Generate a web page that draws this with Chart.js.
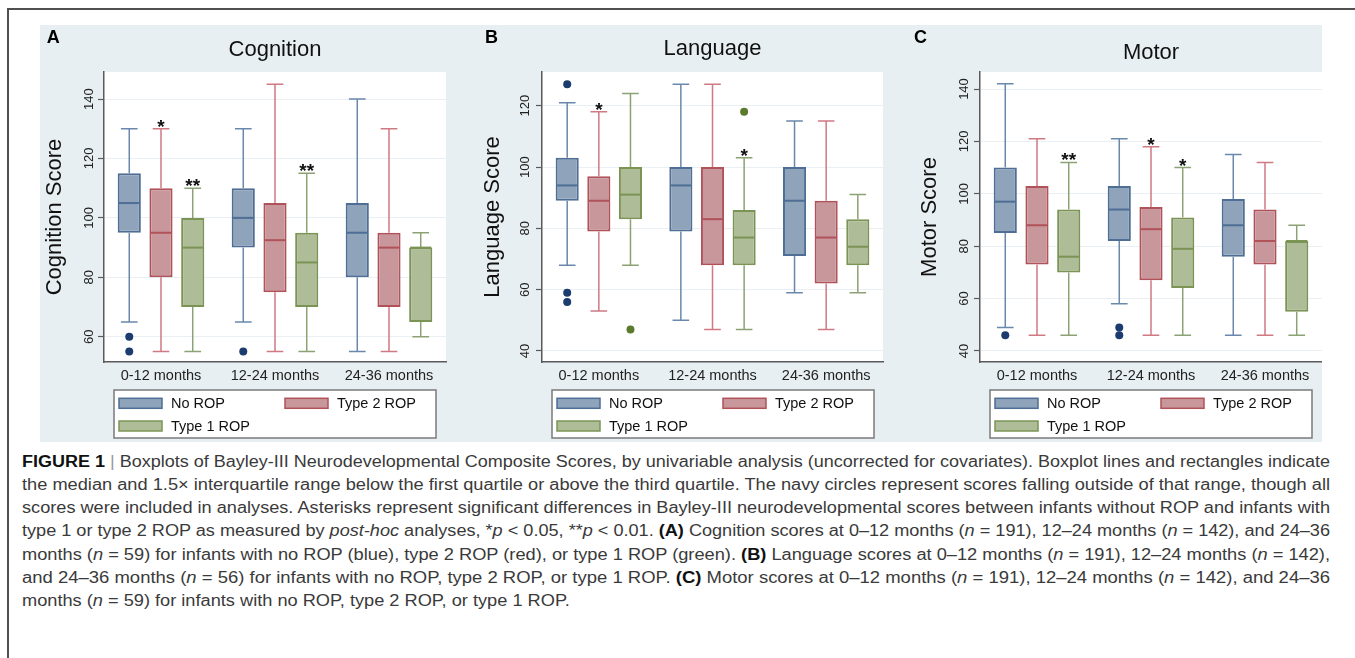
<!DOCTYPE html>
<html>
<head>
<meta charset="utf-8">
<script src="https://cdn.jsdelivr.net/npm/chart.js@4.4.1/dist/chart.umd.min.js"></script>
<style>
  html, body { margin: 0; padding: 0; background: #ffffff; }
  body { width: 1355px; height: 658px; position: relative; overflow: hidden; font-family: 'Liberation Sans', Arial, Helvetica, sans-serif; }
  #frame { position: absolute; left: 7px; top: 8px; width: 1400px; height: 700px; border-top: 2px solid #505050; border-left: 2px solid #505050; }
  #panelbg { position: absolute; left: 40px; top: 25px; width: 1282px; height: 417px; background: #e8eff2; }
  canvas { position: absolute; top: 25px; }
  #cA { left: 40px; }
  #cB { left: 470px; }
  #cC { left: 910px; }
  #cap { position: absolute; left: 22px; top: 449.5px; font-size: 16px; line-height: 23.33px; color: #3a3a3a; }
  #cap .ln { display: block; height: 23.33px; }
  #cap .ln span.t { display: inline-block; white-space: nowrap; transform-origin: 0 50%; }
  #cap b { color: #111; }
  #cap .bar { color: #999; }
</style>
</head>
<body>
<div id="frame"></div>
<div id="panelbg"></div>
<canvas id="cA" width="430" height="417"></canvas>
<canvas id="cB" width="440" height="417"></canvas>
<canvas id="cC" width="412" height="417"></canvas>

<div id="cap">
  <div class="ln"><span class="t"><b>FIGURE 1</b> <span class="bar">|</span> Boxplots of Bayley-III Neurodevelopmental Composite Scores, by univariable analysis (uncorrected for covariates). Boxplot lines and rectangles indicate</span></div>
  <div class="ln"><span class="t">the median and 1.5× interquartile range below the first quartile or above the third quartile. The navy circles represent scores falling outside of that range, though all</span></div>
  <div class="ln"><span class="t">scores were included in analyses. Asterisks represent significant differences in Bayley-III neurodevelopmental scores between infants without ROP and infants with</span></div>
  <div class="ln"><span class="t">type 1 or type 2 ROP as measured by <i>post-hoc</i> analyses, *<i>p</i> &lt; 0.05, **<i>p</i> &lt; 0.01. <b>(A)</b> Cognition scores at 0–12 months (<i>n</i> = 191), 12–24 months (<i>n</i> = 142), and 24–36</span></div>
  <div class="ln"><span class="t">months (<i>n</i> = 59) for infants with no ROP (blue), type 2 ROP (red), or type 1 ROP (green). <b>(B)</b> Language scores at 0–12 months (<i>n</i> = 191), 12–24 months (<i>n</i> = 142),</span></div>
  <div class="ln"><span class="t">and 24–36 months (<i>n</i> = 56) for infants with no ROP, type 2 ROP, or type 1 ROP. <b>(C)</b> Motor scores at 0–12 months (<i>n</i> = 191), 12–24 months (<i>n</i> = 142), and 24–36</span></div>
  <div class="ln"><span class="t">months (<i>n</i> = 59) for infants with no ROP, type 2 ROP, or type 1 ROP.</span></div>
</div>

<script>
// ---------------- DATA ----------------
const categories = ['0-12 months', '12-24 months', '24-36 months'];
const seriesNames = ['No ROP', 'Type 2 ROP', 'Type 1 ROP'];

// Cognition (A)
const cogTicks = [60, 80, 100, 120, 140];
const cogNoMin = [65, 65, 55];
const cogNoQ1  = [95, 90, 80];
const cogNoMed = [105, 100, 95];
const cogNoQ3  = [115, 110, 105];
const cogNoMax = [130, 130, 140];
const cogNoOut = [[60, 55], [55], []];
const cogNoSig = ['', '', ''];
const cogT2Min = [55, 55, 55];
const cogT2Q1  = [80, 75, 70];
const cogT2Med = [95, 92.5, 90];
const cogT2Q3  = [110, 105, 95];
const cogT2Max = [130, 145, 130];
const cogT2Out = [[], [], []];
const cogT2Sig = ['*', '', ''];
const cogT1Min = [55, 55, 60];
const cogT1Q1  = [70, 70, 65];
const cogT1Med = [90, 85, 90];
const cogT1Q3  = [100, 95, 90];
const cogT1Max = [110, 115, 95];
const cogT1Out = [[], [], []];
const cogT1Sig = ['**', '**', ''];

// Language (B)
const lanTicks = [40, 60, 80, 100, 120];
const lanNoMin = [68, 50, 59];
const lanNoQ1  = [89, 79, 71];
const lanNoMed = [94, 94, 89];
const lanNoQ3  = [103, 100, 100];
const lanNoMax = [121, 127, 115];
const lanNoOut = [[127, 59, 56], [], []];
const lanNoSig = ['', '', ''];
const lanT2Min = [53, 47, 47];
const lanT2Q1  = [79, 68, 62];
const lanT2Med = [89, 83, 77];
const lanT2Q3  = [97, 100, 89];
const lanT2Max = [118, 127, 115];
const lanT2Out = [[], [], []];
const lanT2Sig = ['*', '', ''];
const lanT1Min = [68, 47, 59];
const lanT1Q1  = [83, 68, 68];
const lanT1Med = [91, 77, 74];
const lanT1Q3  = [100, 86, 83];
const lanT1Max = [124, 103, 91];
const lanT1Out = [[47], [118], []];
const lanT1Sig = ['', '*', ''];

// Motor (C)
const motTicks = [40, 60, 80, 100, 120, 140];
const motNoMin = [49, 58, 46];
const motNoQ1  = [85, 82, 76];
const motNoMed = [97, 94, 88];
const motNoQ3  = [110, 103, 98];
const motNoMax = [142, 121, 115];
const motNoOut = [[46], [49, 46], []];
const motNoSig = ['', '', ''];
const motT2Min = [46, 46, 46];
const motT2Q1  = [73, 67, 73];
const motT2Med = [88, 86.5, 82];
const motT2Q3  = [103, 95, 94];
const motT2Max = [121, 118, 112];
const motT2Out = [[], [], []];
const motT2Sig = ['', '*', ''];
const motT1Min = [46, 46, 46];
const motT1Q1  = [70, 64, 55];
const motT1Med = [76, 79, 82];
const motT1Q3  = [94, 91, 82];
const motT1Max = [112, 110, 88];
const motT1Out = [[], [], []];
const motT1Sig = ['**', '*', ''];

// ---------------- STYLE ----------------
const FONT = "'Liberation Sans', Arial, Helvetica, sans-serif";
const fills = ['#8fa3ba', '#c8979b', '#aebc97'];
const borders = ['#4e6e95', '#b0525a', '#7b9455'];
const whiskerColors = ['#6a88ab', '#cf7a82', '#8da274'];
const outlierColors = ['#1c3c70', '#b0525a', '#5b7a2e'];

const panels = [
  { id: 'cA', letter: 'A', title: 'Cognition', yTitle: 'Cognition Score', ticks: cogTicks, yMin: 51.5, yMax: 149.1,
    series: [
      { min: cogNoMin, q1: cogNoQ1, med: cogNoMed, q3: cogNoQ3, max: cogNoMax, out: cogNoOut, sig: cogNoSig },
      { min: cogT2Min, q1: cogT2Q1, med: cogT2Med, q3: cogT2Q3, max: cogT2Max, out: cogT2Out, sig: cogT2Sig },
      { min: cogT1Min, q1: cogT1Q1, med: cogT1Med, q3: cogT1Q3, max: cogT1Max, out: cogT1Out, sig: cogT1Sig } ],
    lay: { axisW: 64, rightPad: 24, tTop: 11.4, tBot: 9.2, yTitlePad: 1.8, tickPad: -1.85, letterX: 6.7 } },
  { id: 'cB', letter: 'B', title: 'Language', yTitle: 'Language Score', ticks: lanTicks, yMin: 36.4, yMax: 131,
    series: [
      { min: lanNoMin, q1: lanNoQ1, med: lanNoMed, q3: lanNoQ3, max: lanNoMax, out: lanNoOut, sig: lanNoSig },
      { min: lanT2Min, q1: lanT2Q1, med: lanT2Med, q3: lanT2Q3, max: lanT2Max, out: lanT2Out, sig: lanT2Sig },
      { min: lanT1Min, q1: lanT1Q1, med: lanT1Med, q3: lanT1Q3, max: lanT1Max, out: lanT1Out, sig: lanT1Sig } ],
    lay: { axisW: 72, rightPad: 27, tTop: 10.8, tBot: 9.8, yTitlePad: 10.1, tickPad: -0.65, letterX: 15 } },
  { id: 'cC', letter: 'C', title: 'Motor', yTitle: 'Motor Score', ticks: motTicks, yMin: 35.8, yMax: 146.5,
    series: [
      { min: motNoMin, q1: motNoQ1, med: motNoMed, q3: motNoQ3, max: motNoMax, out: motNoOut, sig: motNoSig },
      { min: motT2Min, q1: motT2Q1, med: motT2Med, q3: motT2Q3, max: motT2Max, out: motT2Out, sig: motT2Sig },
      { min: motT1Min, q1: motT1Q1, med: motT1Med, q3: motT1Q3, max: motT1Max, out: motT1Out, sig: motT1Sig } ],
    lay: { axisW: 70, rightPad: 0, tTop: 14.8, tBot: 5.8, yTitlePad: 6.8, tickPad: -0.85, letterX: 4 } }
];

Chart.defaults.font.family = FONT;

const boxDecor = {
  id: 'boxDecor',
  beforeDraw(chart) {
    const a = chart.chartArea, ctx = chart.ctx;
    ctx.save();
    ctx.fillStyle = '#ffffff';
    ctx.fillRect(a.left, a.top, a.right - a.left, a.bottom - a.top);
    ctx.restore();
  },
  afterDatasetsDraw(chart) {
    const p = chart.options.plugins.boxDecor.panel;
    const ctx = chart.ctx, y = chart.scales.y;
    ctx.save();
    p.series.forEach((s, i) => {
      const meta = chart.getDatasetMeta(i);
      meta.data.forEach((bar, j) => {
        const x = bar.x, w = bar.width;
        const py = v => y.getPixelForValue(v);
        const cw = w * 0.36;
        ctx.strokeStyle = whiskerColors[i];
        ctx.lineWidth = 1.5;
        ctx.beginPath();
        ctx.moveTo(x, py(s.q3[j])); ctx.lineTo(x, py(s.max[j]));
        ctx.moveTo(x, py(s.q1[j])); ctx.lineTo(x, py(s.min[j]));
        ctx.moveTo(x - cw, py(s.max[j])); ctx.lineTo(x + cw, py(s.max[j]));
        ctx.moveTo(x - cw, py(s.min[j])); ctx.lineTo(x + cw, py(s.min[j]));
        ctx.stroke();
        ctx.strokeStyle = borders[i];
        ctx.lineWidth = 2;
        ctx.beginPath();
        ctx.moveTo(x - w / 2 + 1, py(s.med[j])); ctx.lineTo(x + w / 2 - 1, py(s.med[j]));
        ctx.stroke();
        ctx.fillStyle = outlierColors[i];
        s.out[j].forEach(v => {
          ctx.beginPath(); ctx.arc(x, py(v), 4, 0, Math.PI * 2); ctx.fill();
        });
        if (s.sig[j]) {
          ctx.fillStyle = '#111';
          ctx.font = 'bold 19px ' + FONT;
          ctx.textAlign = 'center';
          ctx.textBaseline = 'alphabetic';
          ctx.fillText(s.sig[j], x, py(s.max[j]) + 4);
        }
      });
    });
    ctx.restore();
  },
  afterDraw(chart) {
    const p = chart.options.plugins.boxDecor.panel;
    const ctx = chart.ctx, a = chart.chartArea;
    ctx.save();
    // panel letter
    ctx.fillStyle = '#000';
    ctx.font = 'bold 18px ' + FONT;
    ctx.textAlign = 'left';
    ctx.textBaseline = 'alphabetic';
    ctx.fillText(p.letter, p.lay.letterX, 18.3);
    // legend
    const lx = a.left + 10, ly = a.bottom + 28, lw = 322, lh = 48;
    ctx.fillStyle = '#ffffff';
    ctx.fillRect(lx, ly, lw, lh);
    ctx.strokeStyle = '#7a7a7a';
    ctx.lineWidth = 1.5;
    ctx.strokeRect(lx, ly, lw, lh);
    const pos = [[5, 13.3], [171, 13.3], [5, 36]];
    chart.data.datasets.forEach((ds, i) => {
      const [dx, dy] = pos[i];
      ctx.fillStyle = fills[i];
      ctx.fillRect(lx + dx, ly + dy - 5, 43, 10);
      ctx.strokeStyle = borders[i];
      ctx.lineWidth = 1.5;
      ctx.strokeRect(lx + dx, ly + dy - 5, 43, 10);
      ctx.fillStyle = '#111';
      ctx.font = '14.5px ' + FONT;
      ctx.textAlign = 'left';
      ctx.textBaseline = 'middle';
      ctx.fillText(ds.label, lx + dx + 52, ly + dy + 0.5);
    });
    ctx.restore();
  }
};

panels.forEach(p => {
  const L = p.lay;
  new Chart(document.getElementById(p.id), {
    type: 'bar',
    data: {
      labels: categories,
      datasets: p.series.map((s, i) => ({
        label: seriesNames[i],
        data: categories.map((c, j) => [s.q1[j], s.q3[j]]),
        backgroundColor: fills[i],
        borderColor: borders[i],
        borderWidth: 2,
        borderSkipped: false,
        categoryPercentage: 0.835,
        barPercentage: 0.73
      }))
    },
    plugins: [boxDecor],
    options: {
      responsive: false,
      animation: false,
      devicePixelRatio: 1,
      layout: { padding: { left: 0, right: L.rightPad, top: 0, bottom: 50 } },
      plugins: {
        legend: { display: false },
        tooltip: { enabled: false },
        title: {
          display: true, text: p.title, fullSize: false, color: '#111',
          font: { size: 22, weight: 'normal', family: FONT, lineHeight: 1.2 },
          padding: { top: L.tTop, bottom: L.tBot }
        },
        boxDecor: { panel: p }
      },
      scales: {
        x: {
          grid: { display: false, drawTicks: false },
          border: { display: true, color: '#5a5a5a', width: 1.5 },
          ticks: { padding: 5, color: '#222', maxRotation: 0, autoSkip: false, font: { size: 14.5, family: FONT } },
          afterFit: s => { s.height = 30; }
        },
        y: {
          min: p.yMin, max: p.yMax,
          afterBuildTicks: s => { s.ticks = p.ticks.map(v => ({ value: v })); },
          afterFit: s => { s.width = L.axisW; },
          ticks: { minRotation: 90, maxRotation: 90, crossAlign: 'center', padding: L.tickPad, color: '#222', font: { size: 13, family: FONT } },
          grid: { color: '#e9eff3', lineWidth: 1, drawTicks: true, tickLength: 6, tickColor: '#5a5a5a', tickWidth: 1.2 },
          border: { display: true, color: '#5a5a5a', width: 1.5 },
          title: { display: true, text: p.yTitle, color: '#111', font: { size: 22, family: FONT, lineHeight: 1.2 }, padding: { top: L.yTitlePad, bottom: 0 } }
        }
      }
    }
  });
});

// caption line fitting (justified lines)
function fitCaption() {
  const spans = Array.from(document.querySelectorAll('#cap .ln span.t'));
  spans.forEach(sp => { sp.style.transform = 'none'; });
  const ks = [];
  spans.forEach((sp, i) => {
    if (i < spans.length - 1) {
      const w = sp.getBoundingClientRect().width;
      const k = 1308 / w;
      ks.push(k);
      sp.style.transform = 'scaleX(' + k + ')';
    }
  });
  const avg = ks.reduce((a, b) => a + b, 0) / ks.length;
  spans[spans.length - 1].style.transform = 'scaleX(' + avg + ')';
}
fitCaption();
if (document.fonts && document.fonts.ready) document.fonts.ready.then(fitCaption);
</script>
</body>
</html>
